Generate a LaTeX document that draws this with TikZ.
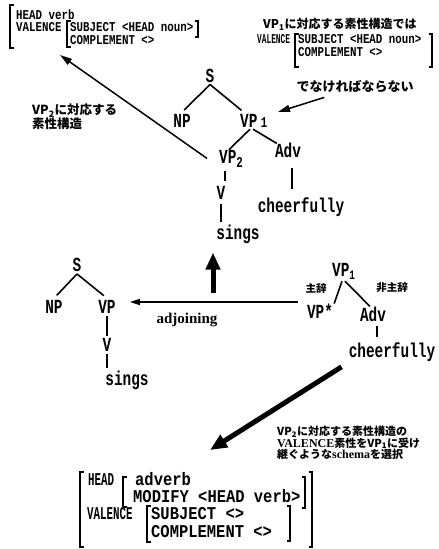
\documentclass[tikz,border=0pt]{standalone}
\usepackage{fontspec}
\usetikzlibrary{arrows.meta}
\newfontfamily\jpfont{Noto Sans CJK JP}
\newfontfamily\trfont{Liberation Mono}[FakeStretch=0.72]
\newfontfamily\trnfont{Liberation Mono}[FakeStretch=0.6]
\newfontfamily\avbfont{Liberation Mono}[FakeStretch=0.86]
\newfontfamily\avfont{Liberation Mono}[FakeStretch=0.8]
\newfontfamily\avnfont{Liberation Mono}[FakeStretch=0.58]
\newfontfamily\serfont{Liberation Serif}
\newcommand\lbrk[3]{\draw[brk] (#1+3.5,#2) -- (#1,#2) -- (#1,#3) -- (#1+3.5,#3);}
\newcommand\rbrk[3]{\draw[brk] (#1-3.5,#2) -- (#1,#2) -- (#1,#3) -- (#1-3.5,#3);}
\tikzset{
 trlab/.style={font=\trfont\bfseries\fontsize{20}{20}\selectfont, inner sep=2pt},
 treeline/.style={line width=1.6pt},
 brk/.style={line width=1.2pt},
 thinarr/.style={line width=1.5pt, -{Triangle[length=12pt,width=7pt]}},
 thickarr/.style={line width=5pt, -{Triangle[length=17pt,width=14pt]}},
 jp/.style={font=\jpfont\bfseries\fontsize{12}{13.5}\selectfont, inner sep=0pt},
 avmt/.style={font=\avfont\bfseries\fontsize{13.5}{13.5}\selectfont, inner sep=0pt, anchor=base west, text height=8.5pt, text depth=1.5pt},
 avmb/.style={font=\avbfont\bfseries\fontsize{18}{18}\selectfont, inner sep=0pt, anchor=base west, text height=11pt, text depth=2pt},
 avmbn/.style={font=\trnfont\bfseries\fontsize{18}{18}\selectfont, inner sep=0pt, anchor=base west, text height=11pt, text depth=2pt},
}
\begin{document}
\begin{tikzpicture}[x=1pt,y=-1pt]
\useasboundingbox (0,0) rectangle (439,549);

% ---------- top-left AVM ----------
\node[avmt] (tHead) at (16,19) {HEAD verb};
\node[avmt] (tVal) at (16,31) {VALENCE};
\node[avmt] (tSubj) at (70,31) {SUBJECT <HEAD noun>};
\node[avmt] (tComp) at (70,44) {COMPLEMENT <>};
\lbrk{10}{5}{48}
\lbrk{67}{21}{47}
\rbrk{198}{21}{37}
\coordinate (avmtip) at (60,55);

% ---------- top-right annotation ----------
\node[jp, anchor=west] (rNote) at (263,24) {VP\textsubscript{1}に対応する素性構造では};
\node[avmt, font=\avnfont\bfseries\fontsize{13.5}{13.5}\selectfont] (rVal) at (257,43) {VALENCE};
\node[avmt] (rSubj) at (298,43) {SUBJECT <HEAD noun>};
\node[avmt] (rComp) at (298,56.5) {COMPLEMENT <>};
\lbrk{295}{34}{67}
\rbrk{432}{34}{67}
\node[jp, font=\jpfont\bfseries\fontsize{13}{13}\selectfont] (rMust) at (355,87) {でなければならない};

% ---------- upper tree ----------
\node[trlab] (S1) at (210,75.5) {S};
\node[trlab] (NP1) at (182,121) {NP};
\node[trlab, anchor=base west] (VP1) at (238,127) {VP\,{\fontsize{15}{15}\selectfont 1}};
\node[trlab, anchor=base west] (VP2) at (217,163) {VP\raisebox{-4pt}{\fontsize{15}{15}\selectfont 2}};
\node[trlab] (V1) at (221,193) {V};
\node[trlab] (sings1) at (238,234) {sings};
\node[trlab] (Adv1) at (288,150) {Adv};
\node[trlab] (cheer1) at (301,207) {cheerfully};

\draw[treeline, shorten >=3pt] (S1.south) -- (NP1.north);
\draw[treeline, shorten >=2pt] (S1.south) -- ([xshift=5pt]VP1.north west);
\draw[treeline] ([xshift=12pt]VP1.south west) -- ([xshift=12pt,yshift=-2pt]VP2.north west);
\draw[treeline] ([xshift=15pt]VP1.south west) -- ([xshift=4pt,yshift=-3pt]Adv1.north west);
\draw[treeline, shorten <=2pt, shorten >=3pt] ([xshift=8pt]VP2.south west) -- ([xshift=8pt]VP2.south west |- V1.north);
\draw[treeline, shorten <=2pt] (V1.south) -- (V1.south |- sings1.north);
\draw[treeline, shorten <=8pt, shorten >=6pt] ([xshift=4pt]Adv1.south) -- ([xshift=4pt]Adv1.south |- cheer1.north);

\node[jp, anchor=north west, align=left, font=\jpfont\bfseries\fontsize{12.5}{14}\selectfont] (lNote) at (32,104) {VP\textsubscript{2}に対応する\\素性構造};

\draw[thinarr] ([xshift=-10pt]VP2.west) -- (avmtip);
\coordinate (mustEnd) at (278,112);
\draw[thinarr] ([xshift=28pt,yshift=-4pt]rMust.south west) -- (mustEnd);

% ---------- thick up arrow ----------
\coordinate (upS) at (213,293);
\draw[thickarr, shorten >=7pt] (upS) -- (upS |- sings1.south);

% ---------- lower-left tree ----------
\node[trlab] (S2) at (77,265) {S};
\node[trlab] (NP2) at (54,307) {NP};
\node[trlab] (VP3) at (107,307) {VP};
\node[trlab] (V2) at (107,345) {V};
\node[trlab] (sings2) at (127,380) {sings};
\draw[treeline, shorten >=4pt] (S2.south) -- (NP2.north);
\draw[treeline, shorten >=4pt] (S2.south) -- (VP3.north);
\draw[treeline] (VP3.south) -- (V2.north);
\draw[treeline] (V2.south) -- (V2.south |- sings2.north);

% ---------- adjoining ----------
\coordinate (adjS) at (298,302);
\draw[line width=1.4pt, -{Triangle[length=10pt,width=6pt]}] (adjS) -- ([xshift=12pt]VP3.east |- adjS);
\node[font=\serfont\bfseries\fontsize{15}{15}\selectfont, anchor=base, inner sep=0pt] (adjL) at (187,323) {adjoining};

% ---------- lower-right tree ----------
\node[trlab, anchor=base west] (VP4) at (330,276) {VP\raisebox{-3pt}{\fontsize{13}{13}\selectfont 1}};
\node[jp, font=\jpfont\bfseries\fontsize{10.5}{12}\selectfont] (zhu) at (316,288) {主辞};
\node[jp, font=\jpfont\bfseries\fontsize{10.5}{12}\selectfont] (fei) at (392,288) {非主辞};
\node[trlab] (VPs) at (320,311) {VP*};
\node[trlab] (Adv2) at (373,314) {Adv};
\node[trlab] (cheer2) at (392,352) {cheerfully};
\draw[treeline] ([xshift=12pt]VP4.south west) -- ([xshift=-1pt,yshift=-2pt]VPs.north east);
\draw[treeline] ([xshift=15pt]VP4.south west) -- ([xshift=-3pt,yshift=-2pt]Adv2.north);
\draw[treeline, shorten <=2pt, shorten >=3pt] ([xshift=4pt]Adv2.south) -- ([xshift=4pt]Adv2.south |- cheer2.north);

% ---------- thick diagonal arrow ----------
\coordinate (avm2tip) at (210,450);
\draw[thickarr, shorten <=6pt] (cheer2.south west) -- (avm2tip);

\node[jp, anchor=north west, align=left, font=\jpfont\bfseries\fontsize{11}{11.5}\selectfont] (brNote) at (277,426)
 {VP\textsubscript{2}に対応する素性構造の\\{\serfont\fontsize{12}{12}\selectfont VALENCE}素性をVP\textsubscript{1}に受け\\継ぐような{\serfont\fontsize{12}{12}\selectfont schema}を選択};

% ---------- lower AVM ----------
\node[avmbn] (bHead) at (88,485.5) {HEAD};
\node[avmb] (bAdv) at (135,485.5) {adverb};
\node[avmb] (bMod) at (133,502.5) {MODIFY <HEAD verb>};
\node[avmbn] (bVal) at (87,519.5) {VALENCE};
\node[avmb] (bSubj) at (151,519.5) {SUBJECT <>};
\node[avmb] (bComp) at (151,537) {COMPLEMENT <>};
\lbrk{80}{472}{547}
\rbrk{312}{472}{547}
\lbrk{123}{477}{507}
\rbrk{305}{477}{508}
\lbrk{147}{506}{542}
\rbrk{290}{506}{541}
\end{tikzpicture}
\end{document}
